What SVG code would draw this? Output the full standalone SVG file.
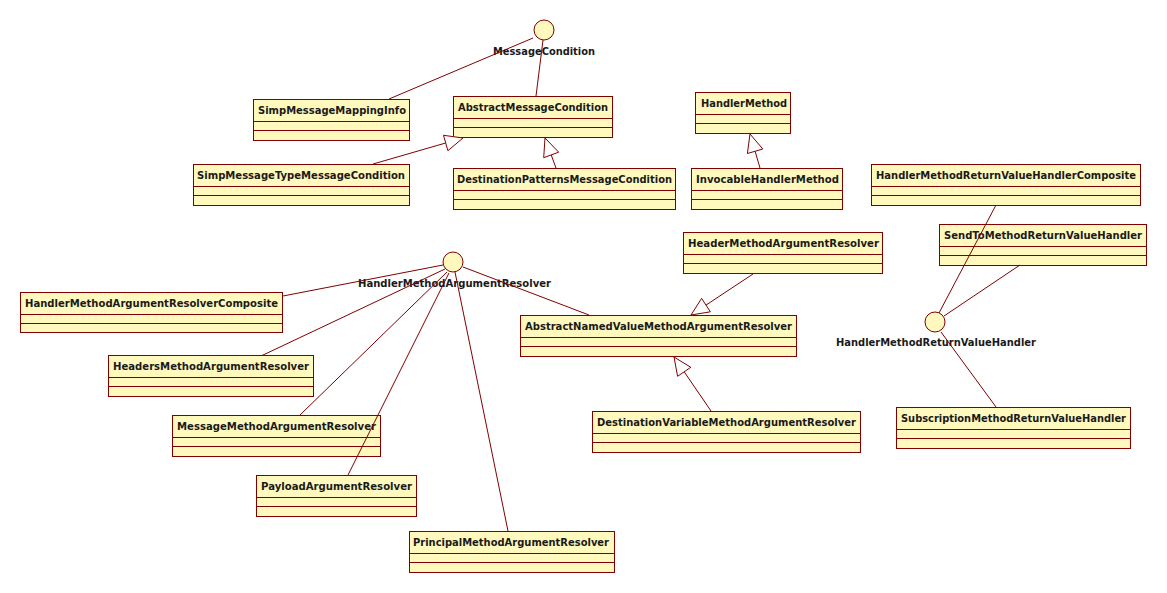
<svg xmlns="http://www.w3.org/2000/svg" width="1167" height="593" viewBox="0 0 1167 593">
<style>
.box{fill:#FFF9BD;stroke:#800000;stroke-width:1}
.sep{stroke:#800000;stroke-width:1}
.t{font-family:"DejaVu Sans","Liberation Sans",sans-serif;font-weight:bold;font-size:11px;fill:#1a1a1a}
.c{fill:none;stroke:#800000;stroke-width:1}
.arr{fill:#ffffff;stroke:#800000;stroke-width:1}
.ifc{fill:#FFF9BD;stroke:#800000;stroke-width:1}
</style>
<rect width="1167" height="593" fill="#ffffff"/>
<g id="MessageCondition">
<circle class="ifc" cx="544" cy="30" r="10"/>
<text class="t" x="493" y="55" textLength="102" lengthAdjust="spacingAndGlyphs">MessageCondition</text>
</g>
<g id="HandlerMethodArgumentResolver">
<circle class="ifc" cx="453" cy="262" r="10"/>
<text class="t" x="358" y="286.5" textLength="193" lengthAdjust="spacingAndGlyphs">HandlerMethodArgumentResolver</text>
</g>
<g id="HandlerMethodReturnValueHandler">
<circle class="ifc" cx="935" cy="322" r="10"/>
<text class="t" x="836" y="346" textLength="200" lengthAdjust="spacingAndGlyphs">HandlerMethodReturnValueHandler</text>
</g>
<g id="SimpMessageMappingInfo">
<rect class="box" x="253.5" y="99.5" width="156" height="41"/>
<line class="sep" x1="253.5" y1="121.5" x2="409.5" y2="121.5"/><line class="sep" x1="253.5" y1="130.5" x2="409.5" y2="130.5"/>
<text class="t" x="258" y="114" textLength="148" lengthAdjust="spacingAndGlyphs">SimpMessageMappingInfo</text>
</g>
<g id="AbstractMessageCondition">
<rect class="box" x="453.5" y="96.5" width="159" height="41"/>
<line class="sep" x1="453.5" y1="118.5" x2="612.5" y2="118.5"/><line class="sep" x1="453.5" y1="127.5" x2="612.5" y2="127.5"/>
<text class="t" x="458" y="111" textLength="150" lengthAdjust="spacingAndGlyphs">AbstractMessageCondition</text>
</g>
<g id="SimpMessageTypeMessageCondition">
<rect class="box" x="193.5" y="164.5" width="216" height="41"/>
<line class="sep" x1="193.5" y1="186.5" x2="409.5" y2="186.5"/><line class="sep" x1="193.5" y1="195.5" x2="409.5" y2="195.5"/>
<text class="t" x="197" y="179" textLength="208" lengthAdjust="spacingAndGlyphs">SimpMessageTypeMessageCondition</text>
</g>
<g id="DestinationPatternsMessageCondition">
<rect class="box" x="453.5" y="168.5" width="222" height="41"/>
<line class="sep" x1="453.5" y1="190.5" x2="675.5" y2="190.5"/><line class="sep" x1="453.5" y1="199.5" x2="675.5" y2="199.5"/>
<text class="t" x="457" y="183" textLength="215" lengthAdjust="spacingAndGlyphs">DestinationPatternsMessageCondition</text>
</g>
<g id="HandlerMethod">
<rect class="box" x="695.5" y="92.5" width="95" height="41"/>
<line class="sep" x1="695.5" y1="114.5" x2="790.5" y2="114.5"/><line class="sep" x1="695.5" y1="123.5" x2="790.5" y2="123.5"/>
<text class="t" x="701" y="107" textLength="86" lengthAdjust="spacingAndGlyphs">HandlerMethod</text>
</g>
<g id="InvocableHandlerMethod">
<rect class="box" x="691.5" y="168.5" width="151" height="41"/>
<line class="sep" x1="691.5" y1="190.5" x2="842.5" y2="190.5"/><line class="sep" x1="691.5" y1="199.5" x2="842.5" y2="199.5"/>
<text class="t" x="696" y="183" textLength="143" lengthAdjust="spacingAndGlyphs">InvocableHandlerMethod</text>
</g>
<g id="HandlerMethodReturnValueHandlerComposite">
<rect class="box" x="871.5" y="164.5" width="269" height="41"/>
<line class="sep" x1="871.5" y1="186.5" x2="1140.5" y2="186.5"/><line class="sep" x1="871.5" y1="195.5" x2="1140.5" y2="195.5"/>
<text class="t" x="876" y="179" textLength="260" lengthAdjust="spacingAndGlyphs">HandlerMethodReturnValueHandlerComposite</text>
</g>
<g id="SendToMethodReturnValueHandler">
<rect class="box" x="939.5" y="224.5" width="207" height="41"/>
<line class="sep" x1="939.5" y1="246.5" x2="1146.5" y2="246.5"/><line class="sep" x1="939.5" y1="255.5" x2="1146.5" y2="255.5"/>
<text class="t" x="944" y="239" textLength="198" lengthAdjust="spacingAndGlyphs">SendToMethodReturnValueHandler</text>
</g>
<g id="HeaderMethodArgumentResolver">
<rect class="box" x="683.5" y="232.5" width="199" height="41"/>
<line class="sep" x1="683.5" y1="254.5" x2="882.5" y2="254.5"/><line class="sep" x1="683.5" y1="263.5" x2="882.5" y2="263.5"/>
<text class="t" x="688" y="247" textLength="191" lengthAdjust="spacingAndGlyphs">HeaderMethodArgumentResolver</text>
</g>
<g id="AbstractNamedValueMethodArgumentResolver">
<rect class="box" x="520.5" y="315.5" width="276" height="41"/>
<line class="sep" x1="520.5" y1="337.5" x2="796.5" y2="337.5"/><line class="sep" x1="520.5" y1="346.5" x2="796.5" y2="346.5"/>
<text class="t" x="525" y="330" textLength="267" lengthAdjust="spacingAndGlyphs">AbstractNamedValueMethodArgumentResolver</text>
</g>
<g id="DestinationVariableMethodArgumentResolver">
<rect class="box" x="592.5" y="411.5" width="268" height="41"/>
<line class="sep" x1="592.5" y1="433.5" x2="860.5" y2="433.5"/><line class="sep" x1="592.5" y1="442.5" x2="860.5" y2="442.5"/>
<text class="t" x="597" y="426" textLength="259" lengthAdjust="spacingAndGlyphs">DestinationVariableMethodArgumentResolver</text>
</g>
<g id="HandlerMethodArgumentResolverComposite">
<rect class="box" x="20.5" y="292.5" width="262" height="40"/>
<line class="sep" x1="20.5" y1="314.5" x2="282.5" y2="314.5"/><line class="sep" x1="20.5" y1="323.5" x2="282.5" y2="323.5"/>
<text class="t" x="25" y="307" textLength="253" lengthAdjust="spacingAndGlyphs">HandlerMethodArgumentResolverComposite</text>
</g>
<g id="HeadersMethodArgumentResolver">
<rect class="box" x="108.5" y="355.5" width="205" height="41"/>
<line class="sep" x1="108.5" y1="377.5" x2="313.5" y2="377.5"/><line class="sep" x1="108.5" y1="386.5" x2="313.5" y2="386.5"/>
<text class="t" x="113" y="370" textLength="196" lengthAdjust="spacingAndGlyphs">HeadersMethodArgumentResolver</text>
</g>
<g id="MessageMethodArgumentResolver">
<rect class="box" x="172.5" y="415.5" width="208" height="41"/>
<line class="sep" x1="172.5" y1="437.5" x2="380.5" y2="437.5"/><line class="sep" x1="172.5" y1="446.5" x2="380.5" y2="446.5"/>
<text class="t" x="177" y="430" textLength="199" lengthAdjust="spacingAndGlyphs">MessageMethodArgumentResolver</text>
</g>
<g id="PayloadArgumentResolver">
<rect class="box" x="256.5" y="475.5" width="160" height="41"/>
<line class="sep" x1="256.5" y1="497.5" x2="416.5" y2="497.5"/><line class="sep" x1="256.5" y1="506.5" x2="416.5" y2="506.5"/>
<text class="t" x="261" y="490" textLength="151" lengthAdjust="spacingAndGlyphs">PayloadArgumentResolver</text>
</g>
<g id="PrincipalMethodArgumentResolver">
<rect class="box" x="409.5" y="531.5" width="205" height="41"/>
<line class="sep" x1="409.5" y1="553.5" x2="614.5" y2="553.5"/><line class="sep" x1="409.5" y1="562.5" x2="614.5" y2="562.5"/>
<text class="t" x="413" y="546" textLength="196" lengthAdjust="spacingAndGlyphs">PrincipalMethodArgumentResolver</text>
</g>
<g id="SubscriptionMethodReturnValueHandler">
<rect class="box" x="896.5" y="407.5" width="234" height="41"/>
<line class="sep" x1="896.5" y1="429.5" x2="1130.5" y2="429.5"/><line class="sep" x1="896.5" y1="438.5" x2="1130.5" y2="438.5"/>
<text class="t" x="901" y="422" textLength="225" lengthAdjust="spacingAndGlyphs">SubscriptionMethodReturnValueHandler</text>
</g>
<g id="connectors">
<line class="c" x1="533" y1="38" x2="389" y2="99"/>
<line class="c" x1="543" y1="40" x2="536" y2="96"/>
<line class="c" x1="373" y1="164" x2="445.7" y2="143"/>
<polygon class="arr" points="463,138 447.9,150.7 443.5,135.3"/>
<line class="c" x1="556" y1="168" x2="551.2" y2="154.9"/>
<polygon class="arr" points="545,138 558.7,152.2 543.7,157.7"/>
<line class="c" x1="760" y1="168" x2="755.1" y2="151.3"/>
<polygon class="arr" points="750,134 762.8,149 747.4,153.5"/>
<line class="c" x1="753" y1="274" x2="706" y2="305.1"/>
<polygon class="arr" points="691,315 710.4,311.8 701.6,298.4"/>
<line class="c" x1="711" y1="411" x2="684.2" y2="371.8"/>
<polygon class="arr" points="674,357 690.8,367.3 677.6,376.3"/>
<line class="c" x1="443" y1="265" x2="283" y2="296"/>
<line class="c" x1="445" y1="269" x2="262" y2="355.5"/>
<line class="c" x1="447" y1="272" x2="300" y2="415"/>
<line class="c" x1="449" y1="273" x2="348" y2="475"/>
<line class="c" x1="455" y1="272" x2="508" y2="531"/>
<line class="c" x1="463" y1="267" x2="589" y2="315"/>
<line class="c" x1="939" y1="313" x2="996" y2="205"/>
<line class="c" x1="944" y1="316" x2="1020" y2="265"/>
<line class="c" x1="941" y1="332" x2="996" y2="407"/>
</g>
</svg>
